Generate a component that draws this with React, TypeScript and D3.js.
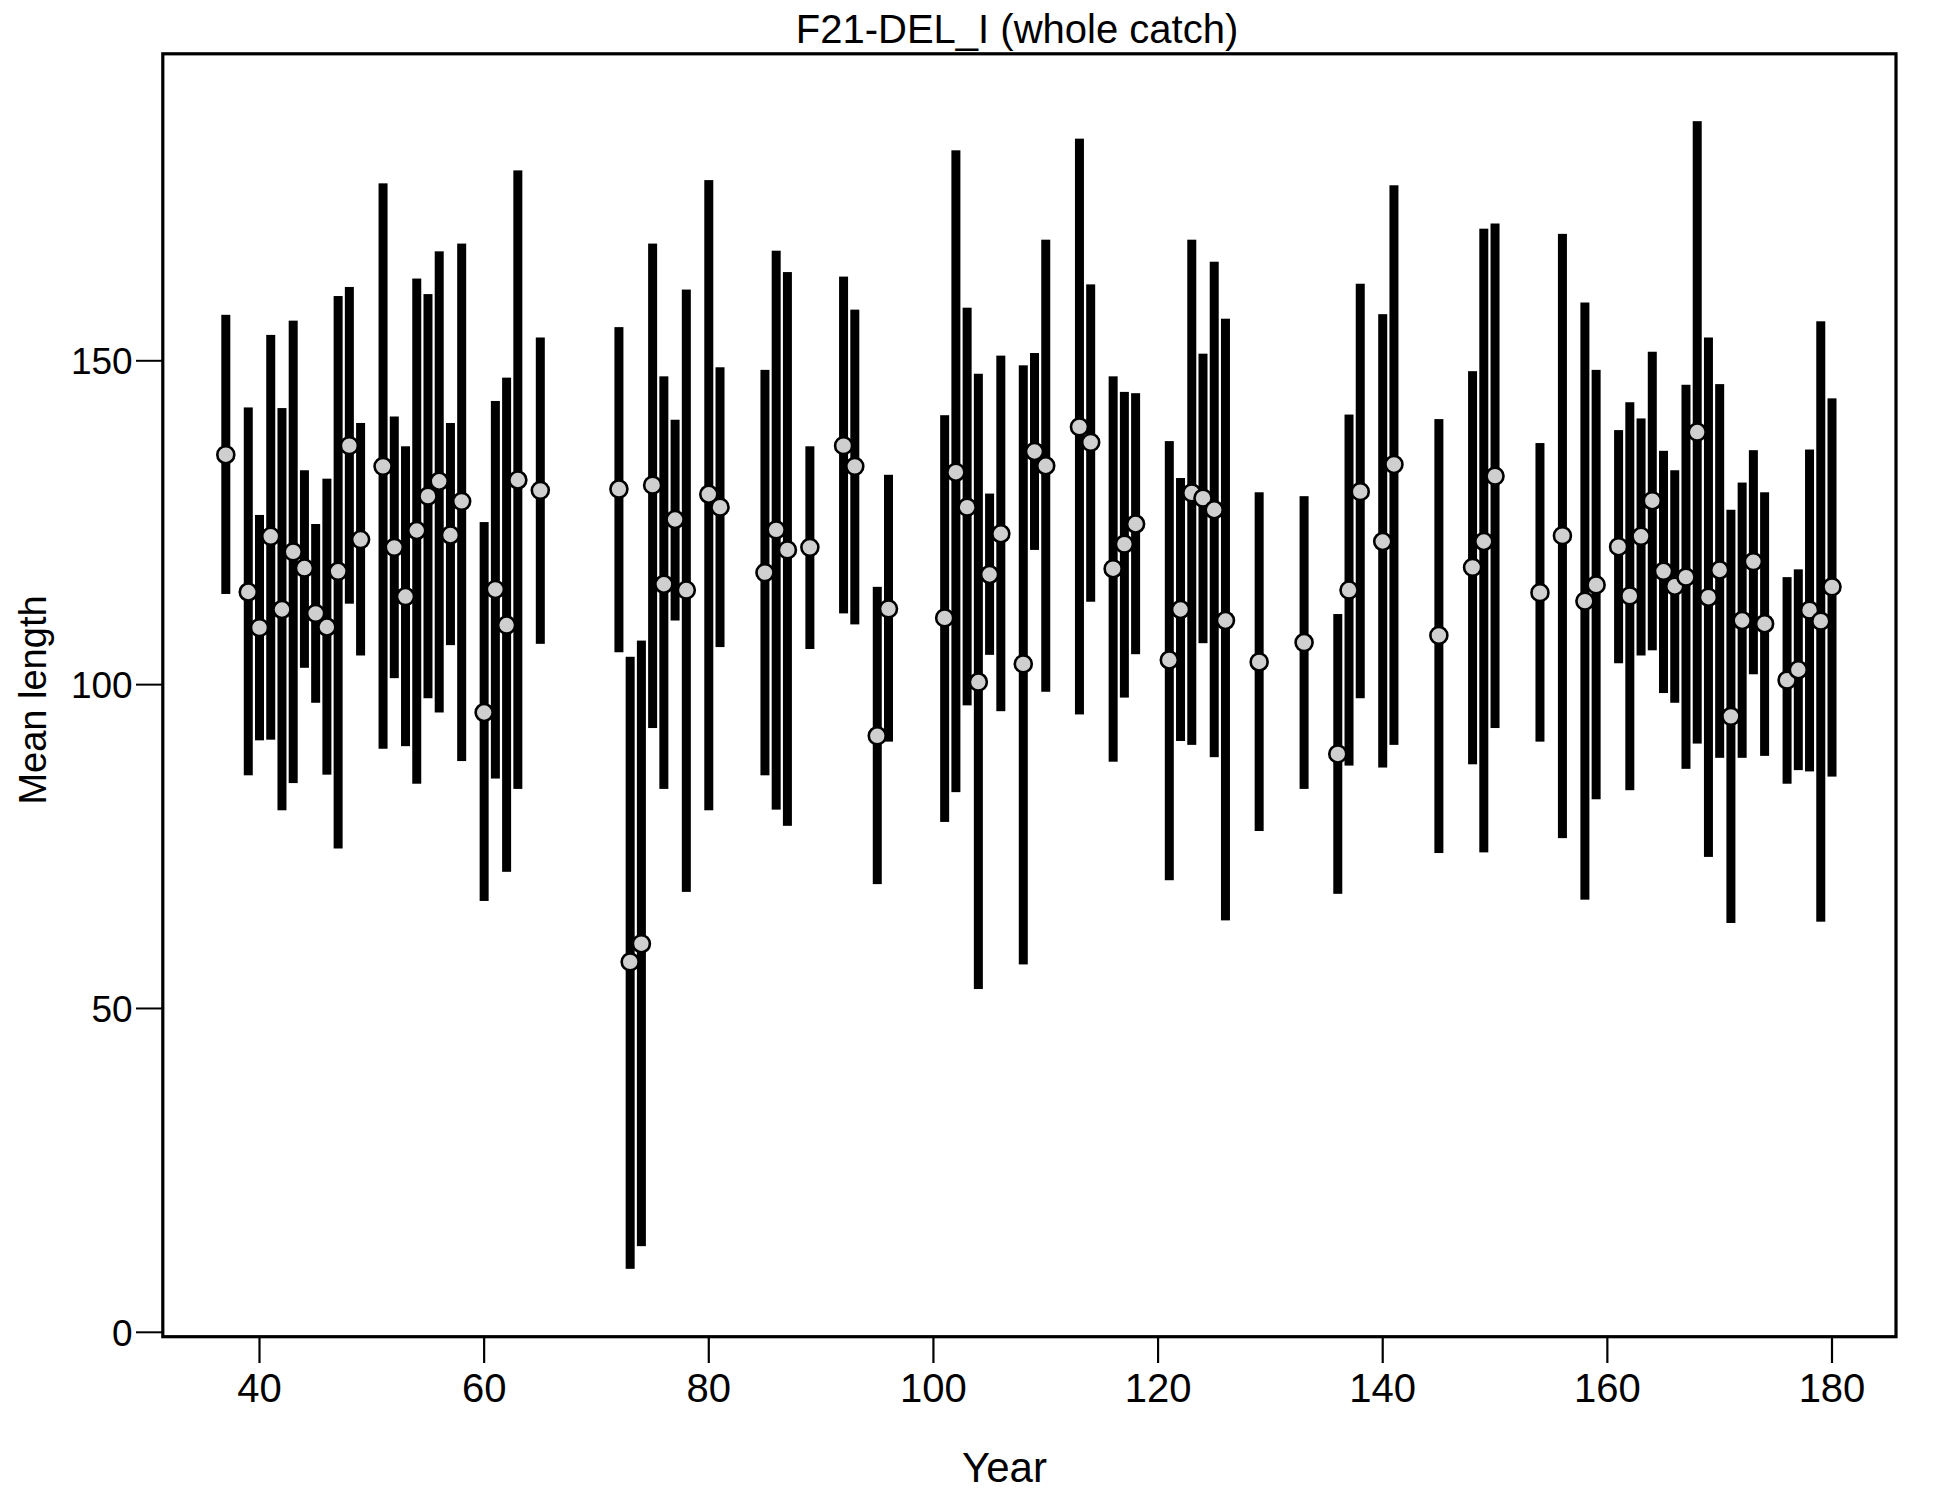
import React from "react";
import * as d3 from "d3";

const years = [37,39,40,41,42,43,44,45,46,47,48,49,51,52,53,54,55,56,57,58,60,61,62,63,65,72,73,74,75,76,77,78,80,81,85,86,87,89,92,93,95,96,101,102,103,104,105,106,108,109,110,113,114,116,117,118,121,122,123,124,125,126,129,133,136,137,138,140,141,145,148,149,150,154,156,158,159,161,162,163,164,165,166,167,168,169,170,171,172,173,174,176,177,178,179,180];
const lower = [114.0,86.0,91.4,91.5,80.6,84.8,102.6,97.2,86.1,74.7,112.5,104.5,90.1,101.0,90.5,84.7,97.9,95.7,106.1,88.2,66.6,85.5,71.1,83.9,106.3,105.0,9.8,13.3,93.3,83.9,109.9,68.0,80.6,105.8,86.0,80.7,78.2,105.5,111.0,109.3,69.2,91.2,78.8,83.4,96.8,53.0,104.6,95.9,56.8,120.8,98.9,95.4,112.8,88.1,98.0,104.7,69.8,91.3,90.7,106.4,88.8,63.6,77.4,83.9,67.7,87.5,97.9,87.2,90.7,74.0,87.7,74.1,93.3,91.2,76.3,66.8,82.3,103.3,83.7,104.5,105.3,98.7,97.2,87.0,90.9,73.4,88.7,63.2,88.7,101.6,89.0,84.7,86.8,86.6,63.4,85.8];
const meanLen = [135.5,114.3,108.8,122.9,111.6,120.5,118.0,111.0,108.9,117.5,136.9,122.4,133.7,121.2,113.6,123.8,129.1,131.4,123.1,128.3,95.7,114.7,109.2,131.6,130.0,130.2,57.2,60.0,130.8,115.5,125.5,114.6,129.4,127.4,117.3,123.9,120.8,121.2,136.9,133.7,92.1,111.7,110.3,132.8,127.4,100.4,117.0,123.3,103.2,136.0,133.8,139.8,137.4,117.9,121.7,124.8,103.8,111.6,129.6,128.8,127.0,109.9,103.5,106.5,89.3,114.6,129.8,122.1,134.0,107.6,118.1,122.1,132.2,114.2,123.0,112.9,115.4,121.3,113.7,122.9,128.4,117.5,115.2,116.6,139.0,113.5,117.7,95.1,109.9,119.0,109.4,100.7,102.3,111.5,109.8,115.1];
const upper = [157.1,142.8,126.2,154.0,142.7,156.2,133.1,124.8,131.8,160.0,161.4,140.4,177.4,141.4,136.8,162.7,160.3,166.9,140.4,168.1,125.1,143.8,147.4,179.4,153.6,155.2,104.3,106.8,168.1,147.6,140.9,161.0,177.9,149.0,148.6,167.0,163.7,136.8,163.0,157.9,115.1,132.4,141.6,182.5,158.2,148.0,129.5,150.8,149.3,151.2,168.7,184.3,161.8,147.6,145.2,145.0,137.6,131.9,168.7,151.1,165.3,156.5,129.7,129.1,110.9,141.7,161.9,157.2,177.1,141.0,148.4,170.4,171.2,137.3,169.6,159.0,148.6,139.3,143.6,141.1,151.4,136.1,133.1,146.3,187.0,153.6,146.4,127.0,131.2,136.2,129.7,116.6,117.8,136.3,156.1,144.2];

const xTicks = [40,60,80,100,120,140,160,180];
const yTicks = [0,50,100,150];
const title = "F21-DEL_I (whole catch)";
const xLabel = "Year";
const yLabel = "Mean length";

const FONT = "'Liberation Sans', Arial, Helvetica, sans-serif";

export default function App() {
  const frame = { left: 162.8, right: 1896, top: 53.8, bottom: 1336.7 };
  const x = d3.scaleLinear().domain([40, 180]).range([259.5, 1832]);
  const y = d3.scaleLinear().domain([0, 150]).range([1332.3, 360.8]);
  const barW = 9;
  const data = years.map((yr, i) => ({ yr, lo: lower[i], m: meanLen[i], hi: upper[i] }));

  return (
    <svg width={1950} height={1500} style={{ position: "absolute", left: 0, top: 0, background: "#fff" }} fontFamily={FONT}>
      <rect x={0} y={0} width={1950} height={1500} fill="#fff" />
      {data.map((d) => (
        <rect key={"b" + d.yr} x={x(d.yr) - barW / 2} y={y(d.hi)} width={barW} height={y(d.lo) - y(d.hi)} fill="#000" />
      ))}
      {data.map((d) => (
        <circle key={"p" + d.yr} cx={x(d.yr)} cy={y(d.m)} r={8.5} fill="#cfcfcf" stroke="#000" strokeWidth={2.6} />
      ))}
      <rect x={frame.left} y={frame.top} width={frame.right - frame.left} height={frame.bottom - frame.top} fill="none" stroke="#000" strokeWidth={3.2} />
      {yTicks.map((t) => (
        <g key={"yt" + t}>
          <line x1={136} x2={frame.left} y1={y(t)} y2={y(t)} stroke="#000" strokeWidth={2} />
          <text x={132.7} y={y(t)} dy="0.36em" textAnchor="end" fontSize={37}>{t}</text>
        </g>
      ))}
      {xTicks.map((t) => (
        <g key={"xt" + t}>
          <line x1={x(t)} x2={x(t)} y1={frame.bottom} y2={1363} stroke="#000" strokeWidth={2.2} />
          <text x={x(t)} y={1401.7} textAnchor="middle" fontSize={40}>{t}</text>
        </g>
      ))}
      <text x={1017} y={43.3} textAnchor="middle" fontSize={40}>{title}</text>
      <text x={1004.5} y={1481.7} textAnchor="middle" fontSize={42}>{xLabel}</text>
      <text transform={`translate(46,700) rotate(-90)`} textAnchor="middle" fontSize={38}>{yLabel}</text>
    </svg>
  );
}
